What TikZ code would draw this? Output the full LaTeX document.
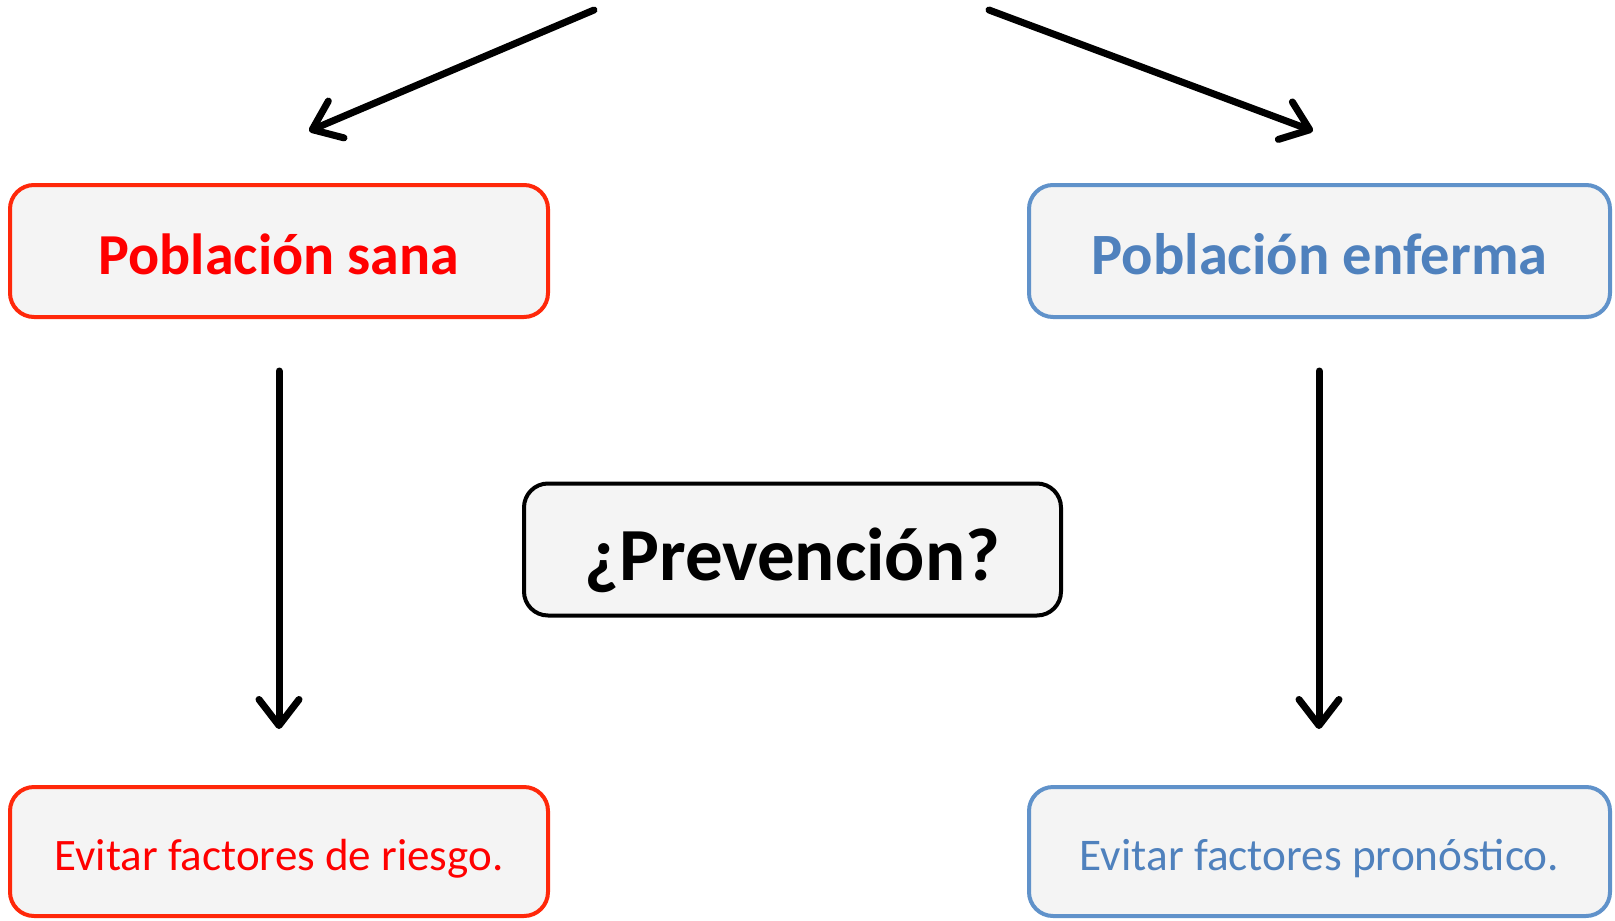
\documentclass[tikz,border=0pt]{standalone}
\usepackage{fontspec}
\setmainfont{Carlito}
\usetikzlibrary{arrows.meta}
\definecolor{sanared}{RGB}{255,0,0}
\definecolor{sanaborde}{RGB}{255,40,10}
\definecolor{enfazul}{RGB}{79,129,189}
\definecolor{enfborde}{RGB}{96,146,202}
\definecolor{relleno}{RGB}{244,244,244}
\tikzset{
  caja/.style={draw,line width=4pt,fill=relleno,rounded corners=24pt,
    minimum height=132pt,inner sep=0pt,text depth=0pt},
  flecha/.style={line width=7pt,line cap=round,
    -{Straight Barb[length=26pt,width=40pt,line cap=round,line join=round]}}
}
\begin{document}
\begin{tikzpicture}[x=1pt,y=-1pt]
  \useasboundingbox (0,0) rectangle (1615,921);
  \node[caja,draw=sanaborde,minimum width=538pt,text=sanared,text height=47pt,
    font=\fontsize{58}{64}\selectfont\bfseries] (sana) at (279,251) {Población sana};
  \node[caja,draw=enfborde,minimum width=581pt,text=enfazul,text height=47pt,
    font=\fontsize{58.5}{64}\selectfont\bfseries] (enferma) at (1319.5,251) {Población enferma};
  \node[caja,draw=black,minimum width=537pt,text height=61.4pt,
    font=\fontsize{75}{80}\selectfont\bfseries] (prev) at (792.5,549.5) {¿Prevención?};
  \node[caja,draw=sanaborde,minimum width=538pt,minimum height=129pt,text=sanared,
    text height=38.6pt,font=\fontsize{45}{50}\selectfont] (riesgo) at (279,851.5) {Evitar factores de riesgo.};
  \node[caja,draw=enfborde,minimum width=581pt,minimum height=129pt,text=enfazul,
    text height=38.6pt,font=\fontsize{45.3}{50}\selectfont] (pronostico) at (1319.5,851.5) {Evitar factores pronóstico.};
  \coordinate (izqA) at (594,10);
  \coordinate (izqB) at (309,131);
  \coordinate (derA) at (989,10);
  \coordinate (derB) at (1313,131);
  \coordinate (bajaIzqA) at (279,371);
  \coordinate (bajaIzqB) at (279,729);
  \coordinate (bajaDerA) at (1319,371);
  \coordinate (bajaDerB) at (1319,729);
  \begin{scope}[flecha]
    \draw (izqA) to (izqB);
    \draw (derA) to (derB);
    \draw (bajaIzqA) to (bajaIzqB);
    \draw (bajaDerA) to (bajaDerB);
  \end{scope}
\end{tikzpicture}
\end{document}
